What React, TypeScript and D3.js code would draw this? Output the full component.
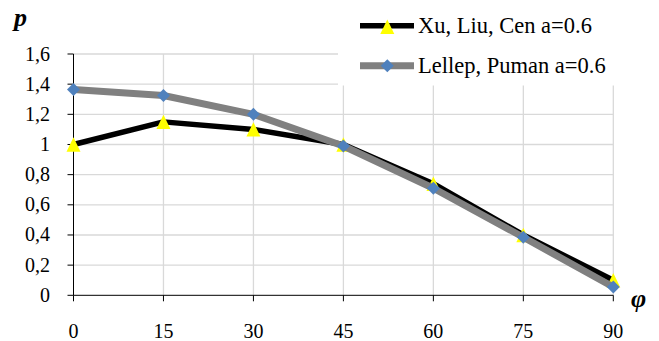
import React from "react";
import * as d3 from "d3";

const angles = [0, 15, 30, 45, 60, 75, 90];
const xuLiuCen = [1.0, 1.15, 1.1, 1.0, 0.74, 0.4, 0.1];
const lellepPuman = [1.365, 1.325, 1.2, 0.99, 0.71, 0.385, 0.055];
const yTicks = [0, 0.2, 0.4, 0.6, 0.8, 1, 1.2, 1.4, 1.6];
const seriesNames = ["Xu, Liu, Cen a=0.6", "Lellep, Puman a=0.6"];

const W = 659;
const H = 341;
const FONT = '"Liberation Serif", "DejaVu Serif", "Times New Roman", serif';

export default function App() {
  const x = d3.scaleLinear().domain([0, 90]).range([73.5, 613.3]);
  const y = d3.scaleLinear().domain([0, 1.6]).range([295.3, 54]);
  const line = d3
    .line<number>()
    .x((_, i) => x(angles[i]))
    .y((d) => y(d));
  const fmt = (v: number) => (v === 0 || v === 1 ? String(v) : v.toFixed(1).replace(".", ","));
  const triPath = d3.path();
  triPath.moveTo(0, -7.2);
  triPath.lineTo(7, 7.2);
  triPath.lineTo(-7, 7.2);
  triPath.closePath();
  const tri = triPath.toString();
  const dia = d3.symbol().type(d3.symbolSquare).size(84)();
  const txt = { fontFamily: FONT } as React.CSSProperties;

  return (
    <svg
      width={W}
      height={H}
      style={{ position: "absolute", left: 0, top: 0, background: "#fff", fontFamily: FONT }}
    >
      <rect width={W} height={H} fill="#fff" />
      {yTicks.filter((t) => t > 0).map((t) => (
        <line key={"gy" + t} x1={x(0)} x2={x(90)} y1={y(t)} y2={y(t)} stroke="#d9d9d9" strokeWidth={1.3} />
      ))}
      {angles.filter((a) => a > 0).map((a) => (
        <line key={"gx" + a} x1={x(a)} x2={x(a)} y1={y(0)} y2={y(1.6)} stroke="#d9d9d9" strokeWidth={1.3} />
      ))}
      <rect x={338} y={0} width={W - 338} height={85.5} fill="#fff" />
      <line x1={x(0)} x2={x(0)} y1={y(0)} y2={y(1.6)} stroke="#000" strokeWidth={1} />
      <line x1={x(0)} x2={x(90)} y1={y(0)} y2={y(0)} stroke="#000" strokeWidth={1} />
      {yTicks.map((t) => (
        <g key={"ty" + t}>
          <line x1={x(0) - 6} x2={x(0)} y1={y(t)} y2={y(t)} stroke="#000" />
          <text x={50} y={y(t) + 6.5} textAnchor="end" fontSize={20} fill="#000" style={txt}>
            {fmt(t)}
          </text>
        </g>
      ))}
      {angles.map((a) => (
        <g key={"tx" + a}>
          <line x1={x(a)} x2={x(a)} y1={y(0)} y2={y(0) + 6} stroke="#000" />
          <text x={x(a)} y={338} textAnchor="middle" fontSize={20} fill="#000" style={txt}>
            {a}
          </text>
        </g>
      ))}
      <text x={14} y={26} fontSize={26} fontWeight="bold" fontStyle="italic" fill="#000" style={txt}>
        p
      </text>
      <text x={631} y={307} fontSize={26} fontWeight="bold" fontStyle="italic" fill="#000" style={txt}>
        φ
      </text>
      <path d={line(xuLiuCen) || ""} fill="none" stroke="#000" strokeWidth={5.5} strokeLinejoin="round" />
      {xuLiuCen.map((v, i) => (
        <path key={"m1" + i} d={tri} transform={`translate(${x(angles[i])},${y(v)})`} fill="#ffff00" />
      ))}
      <path d={line(lellepPuman) || ""} fill="none" stroke="#808080" strokeWidth={7} strokeLinejoin="round" />
      {lellepPuman.map((v, i) => (
        <path key={"m2" + i} d={dia || ""} transform={`translate(${x(angles[i])},${y(v)}) rotate(45)`} fill="#4f81bd" />
      ))}
      <line x1={360} x2={414} y1={25.7} y2={25.7} stroke="#000" strokeWidth={5.5} />
      <path d={tri} transform="translate(387.3,26.8)" fill="#ffff00" />
      <text x={418} y={33} fontSize={22.5} fill="#000" style={txt}>
        {seriesNames[0]}
      </text>
      <line x1={360} x2={414} y1={65.7} y2={65.7} stroke="#808080" strokeWidth={7} />
      <path d={dia || ""} transform="translate(387.3,65.7) rotate(45)" fill="#4f81bd" />
      <text x={418} y={73} fontSize={22.5} fill="#000" style={txt}>
        {seriesNames[1]}
      </text>
    </svg>
  );
}
